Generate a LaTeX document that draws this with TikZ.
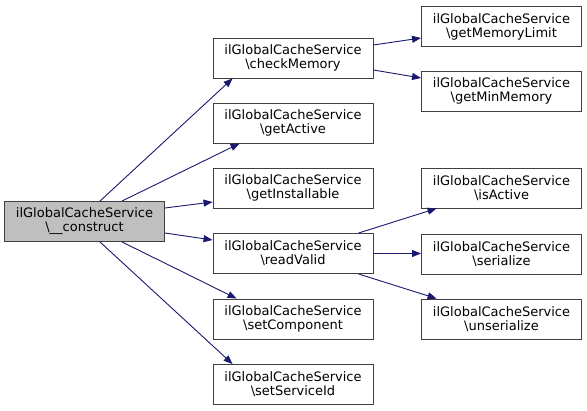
\documentclass[tikz,border=0pt]{standalone}
\usepackage{fontspec}
\setmainfont{DejaVu Sans}
\usetikzlibrary{arrows.meta}
\definecolor{CallEdge}{HTML}{191970}
\definecolor{CallRoot}{HTML}{BFBFBF}
\definecolor{CallBorder}{HTML}{404040}
\tikzset{
  every node/.style={font=\fontsize{13}{14}\selectfont, text=black},
  func/.style={draw=CallBorder, line width=0.9pt, fill=white, minimum width=160pt, minimum height=40pt, inner sep=0pt, align=center},
  rootfunc/.style={func, fill=CallRoot},
  call/.style={-{Triangle[length=9pt,width=7pt]}, draw=CallEdge, line width=0.9pt},
}

\begin{document}
\begin{tikzpicture}[x=1pt, y=-1pt]
  \useasboundingbox (0,0) rectangle (587,411);
  % Caller
  \node[rootfunc] (construct) at (84.5,221.5) {ilGlobalCacheService\\\textbackslash\_\_construct};
  % Direct callees
  \node[func] (checkMemory) at (293,58) {ilGlobalCacheService\\\textbackslash checkMemory};
  \node[func] (getActive) at (293,123) {ilGlobalCacheService\\\textbackslash getActive};
  \node[func] (getInstallable) at (293,188) {ilGlobalCacheService\\\textbackslash getInstallable};
  \node[func] (readValid) at (293,253.5) {ilGlobalCacheService\\\textbackslash readValid};
  \node[func] (setComponent) at (293,319) {ilGlobalCacheService\\\textbackslash setComponent};
  \node[func] (setServiceId) at (293,384.5) {ilGlobalCacheService\\\textbackslash setServiceId};
  % Second level
  \node[func] (getMemoryLimit) at (501.5,26.5) {ilGlobalCacheService\\\textbackslash getMemoryLimit};
  \node[func] (getMinMemory) at (501.5,91) {ilGlobalCacheService\\\textbackslash getMinMemory};
  \node[func] (isActive) at (501.5,188) {ilGlobalCacheService\\\textbackslash isActive};
  \node[func] (serialize) at (501.5,254) {ilGlobalCacheService\\\textbackslash serialize};
  \node[func] (unserialize) at (501.5,319) {ilGlobalCacheService\\\textbackslash unserialize};
  % Calls from the constructor
  \draw[call] ([xshift=15.5pt]construct.north) -- ([xshift=20pt]checkMemory.south west);
  \draw[call] ([xshift=37.5pt]construct.north) -- ([xshift=27pt]getActive.south west);
  \draw[call] ([yshift=13.5pt]construct.east) -- ([yshift=-14pt]getInstallable.west);
  \draw[call] ([yshift=-11.5pt]construct.east) -- ([yshift=13.5pt]readValid.west);
  \draw[call] ([xshift=37.5pt]construct.south) -- ([xshift=24pt]setComponent.north west);
  \draw[call] ([xshift=15.5pt]construct.south) -- ([xshift=20pt]setServiceId.north west);
  % Calls further down
  \draw[call] ([yshift=13pt]checkMemory.east) -- ([yshift=-11.5pt]getMemoryLimit.west);
  \draw[call] ([yshift=-12pt]checkMemory.east) -- ([yshift=13pt]getMinMemory.west);
  \draw[call] ([xshift=-15pt]readValid.north east) -- ([xshift=15.5pt]isActive.south west);
  \draw[call] (readValid.east) -- (serialize.west |- readValid.east);
  \draw[call] ([xshift=-15pt]readValid.south east) -- ([xshift=15.5pt]unserialize.north west);
\end{tikzpicture}
\end{document}
